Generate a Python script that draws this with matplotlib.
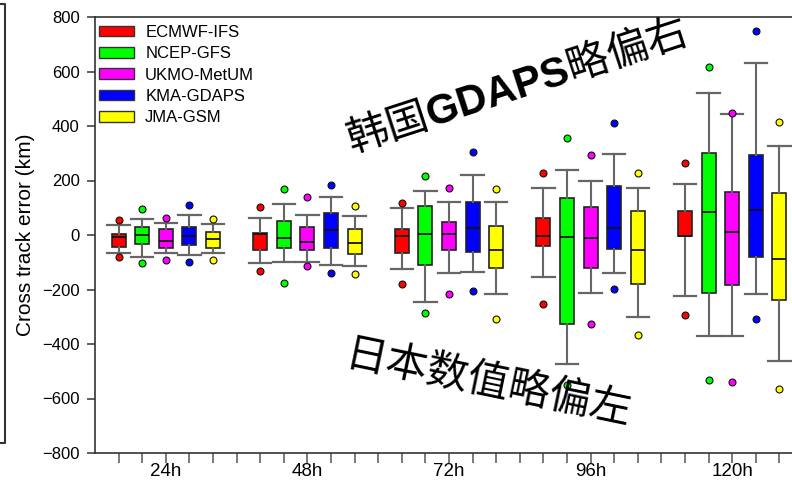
import matplotlib
matplotlib.use('Agg')
import matplotlib.pyplot as plt
from matplotlib.patches import Patch
from matplotlib.lines import Line2D

plt.rcParams['font.family'] = ['Liberation Sans', 'DejaVu Sans']
plt.rcParams['mathtext.fontset'] = 'custom'
plt.rcParams['mathtext.bf'] = 'Liberation Sans:bold'
plt.rcParams['mathtext.rm'] = 'Liberation Sans'

lead_times = ['24h', '48h', '72h', '96h', '120h']
models = ['ECMWF-IFS', 'NCEP-GFS', 'UKMO-MetUM', 'KMA-GDAPS', 'JMA-GSM']
colors = ['#FF0000', '#00FF00', '#FF00FF', '#0000FF', '#FFFF00']

# rows: models (ECMWF, NCEP, UKMO, KMA, JMA); columns: lead times 24h..120h
upper_outlier = [[54, 101, 116, 228, 264],
                 [95, 170, 215, 355, 615],
                 [64, 139, 172, 294, 446],
                 [109, 183, 305, 412, 749],
                 [59, 105, 170, 226, 415]]
whisker_high = [[35, 64, 98, 171, 188],
                [59, 113, 160, 240, 520],
                [45, 73, 121, 198, 443],
                [73, 139, 220, 296, 632],
                [40, 69, 121, 174, 327]]
q3 = [[2, 8, 21, 64, 87],
      [29, 51, 105, 135, 302],
      [21, 28, 49, 104, 158],
      [29, 80, 120, 179, 292],
      [12, 21, 32, 88, 154]]
median = [[-6, 2, -2, -4, -4],
          [1, -12, 2, -9, 83],
          [-21, -26, 2, -11, 12],
          [-4, 17, 26, 26, 93],
          [-16, -31, -56, -56, -88]]
q1 = [[-43, -55, -65, -40, -4],
      [-32, -46, -111, -328, -213],
      [-46, -55, -55, -122, -185],
      [-37, -46, -62, -50, -82],
      [-46, -70, -120, -180, -237]]
whisker_low = [[-65, -101, -125, -155, -224],
               [-80, -98, -245, -475, -369],
               [-66, -98, -141, -212, -369],
               [-75, -109, -137, -141, -218],
               [-65, -113, -218, -302, -464]]
lower_outlier = [[-80, -132, -179, -253, -294],
                 [-101, -175, -287, -550, -532],
                 [-90, -113, -218, -328, -541],
                 [-100, -139, -204, -198, -308],
                 [-92, -142, -309, -366, -564]]

W, H = 792, 480
fig = plt.figure(figsize=(W / 100, H / 100), dpi=100)
ax_left, ax_right_px, ax_top, ax_bot = 95, 95 + 708, 17, 453
ax = fig.add_axes([ax_left / W, 1 - ax_bot / H, (ax_right_px - ax_left) / W, (ax_bot - ax_top) / H])

for m, (name, c) in enumerate(zip(models, colors)):
    for g in range(len(lead_times)):
        pos = g * 6 + m + 1
        st = dict(med=median[m][g], q1=q1[m][g], q3=q3[m][g],
                  whislo=whisker_low[m][g], whishi=whisker_high[m][g],
                  fliers=[lower_outlier[m][g], upper_outlier[m][g]])
        ax.bxp([st], positions=[pos], widths=0.6, capwidths=0.95, patch_artist=True,
               manage_ticks=False,
               boxprops=dict(facecolor=c, edgecolor='#222222', linewidth=1.2),
               medianprops=dict(color='#111111', linewidth=1.3),
               whiskerprops=dict(color='#666666', linewidth=1.5),
               capprops=dict(color='#666666', linewidth=1.6),
               flierprops=dict(marker='o', markerfacecolor=c, markeredgecolor='#111111',
                               markersize=5, markeredgewidth=0.8))

ax.set_xlim(0, 30)
ax.set_ylim(-800, 800)
ax.set_yticks(range(-800, 801, 200))
ax.tick_params(axis='y', labelsize=12, length=6, width=1.1, direction='out', pad=5, color='#333333')
xt = list(range(1, 30))
ax.set_xticks(xt)
centers = {g * 6 + 3: lt for g, lt in enumerate(lead_times)}
ax.set_xticklabels([centers.get(t, '') for t in xt])
ax.tick_params(axis='x', labelsize=13.5, length=7, width=1.1, direction='out', pad=0.5, color='#555555')
for s in ['left', 'bottom', 'top']:
    ax.spines[s].set_color('#333333')
    ax.spines[s].set_linewidth(1.2)
ax.spines['right'].set_visible(False)

ax.set_ylabel('Cross track error (km)', fontsize=15)
ax.yaxis.set_label_coords(-0.085, 0.5)

handles = [Patch(facecolor=c, edgecolor='#333333', linewidth=1.0) for c in colors]
ax.legend(handles, models, loc='upper left', bbox_to_anchor=(0.005, 0.982), frameon=False,
          fontsize=12, handlelength=2.1, handleheight=0.6, handletextpad=0.7,
          labelspacing=0.38, borderaxespad=0, borderpad=0)

cjk = ['Noto Sans CJK SC', 'DejaVu Sans']
fig.text(517 / W, 1 - 86 / H, '韩国$\\mathbf{GDAPS}$略偏右', fontsize=30, family=cjk,
         rotation=18, ha='center', va='center', rotation_mode='anchor')
fig.text(488 / W, 1 - 384 / H, '日本数值略偏左', fontsize=30, family=cjk,
         rotation=-11.7, ha='center', va='center', rotation_mode='anchor')

# remnant frame of a neighbouring panel at the left edge
fig.add_artist(Line2D([0, 5 / W, 5 / W, 0], [1 - 4 / H, 1 - 4 / H, 1 - 443 / H, 1 - 443 / H],
                      transform=fig.transFigure, color='#333333', linewidth=1.5))

fig.savefig('out.png', dpi=100)
